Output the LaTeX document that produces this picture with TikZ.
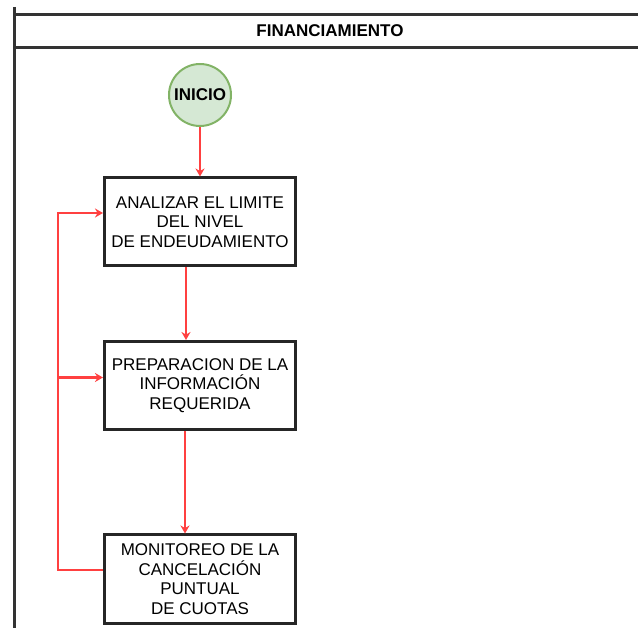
\documentclass[tikz,border=0pt]{standalone}
\usepackage{fontspec}
\setmainfont{Liberation Sans}
\usetikzlibrary{calc,arrows.meta}
\definecolor{inicioFill}{HTML}{D5E8D4}
\definecolor{inicioLine}{HTML}{82B366}
\definecolor{flowRed}{HTML}{FF4040}
\tikzset{
  laneline/.style={line width=3pt,black!80},
  tarea/.style={draw=black!85,line width=3pt,fill=white,minimum width=191pt,
                minimum height=88pt,align=center,inner sep=2pt,
                font=\fontsize{17}{19.5}\selectfont},
  inicio/.style={circle,draw=inicioLine,fill=inicioFill,line width=2pt,
                 minimum size=62pt,inner sep=0pt,font=\fontsize{17}{19}\selectfont\bfseries},
  flecha/.style={flowRed,line width=2.6pt,-{Stealth[length=8pt,width=9pt]}},
  linea/.style={flowRed,line width=2.6pt},
}
\begin{document}
\begin{tikzpicture}[x=1pt,y=-1pt]
\useasboundingbox (0,0) rectangle (638,628);
% lane
\draw[laneline] (14,7)  -- (14,628);
\draw[laneline] (14,15) -- (638,15);
\draw[laneline] (14,48) -- (638,48);
\node[font=\fontsize{17}{19}\selectfont\bfseries] (carril) at (330,31) {FINANCIAMIENTO};
% nodes
\node[inicio] (inicio)      at (200, 95)  {INICIO};
\node[tarea]  (analizar)    at (200,222)  {ANALIZAR EL LIMITE\\DEL NIVEL\\DE ENDEUDAMIENTO};
\node[tarea]  (preparacion) at (200,385.5){PREPARACION DE LA\\INFORMACIÓN\\REQUERIDA};
\node[tarea]  (monitoreo)   at (200,579)  {MONITOREO DE LA\\CANCELACIÓN\\PUNTUAL\\DE CUOTAS};
% loop coordinates
\coordinate (salida)  at ($(monitoreo.west)+(0,-9)$);
\coordinate (retorno) at ($(salida)+(-45,0)$);
\coordinate (entrada1) at ($(analizar.west)+(0,-9)$);
\coordinate (entrada2) at ($(preparacion.west)+(0,-8)$);
% connectors
\draw[flecha] (inicio) -- (analizar);
\draw[flecha] ($(analizar.south)+(-14,0)$) -- ($(preparacion.north)+(-14,0)$);
\draw[flecha] ($(preparacion.south)+(-15,0)$) -- ($(monitoreo.north)+(-15,0)$);
\draw[linea]  (salida) -- (retorno) |- (entrada2 -| retorno);
\draw[flecha] (retorno) |- (entrada1);
\draw[flecha] (entrada2 -| retorno) -- (entrada2);
\end{tikzpicture}
\end{document}
